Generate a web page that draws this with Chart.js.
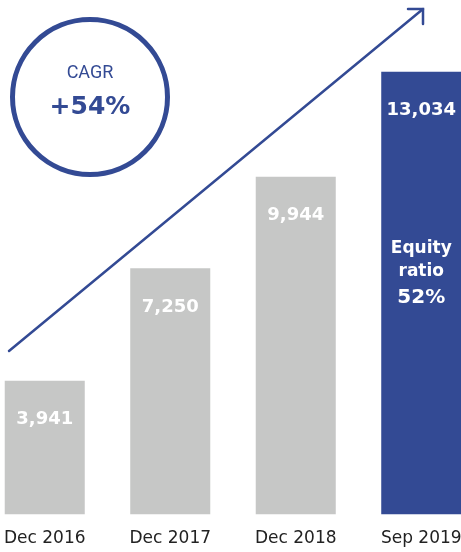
<!DOCTYPE html>
<html>
<head>
<meta charset="utf-8">
<script src="https://cdn.jsdelivr.net/npm/chart.js@4/dist/chart.umd.min.js"></script>
<style>
html,body{margin:0;padding:0;background:#fff;overflow:hidden;width:461px;height:552px;}
#wrap{position:absolute;left:-18px;top:0;width:502px;height:562px;}
</style>
</head>
<body>
<div id="wrap"><canvas id="c" width="502" height="562"></canvas></div>
<script>
const categories = ["Dec 2016", "Dec 2017", "Dec 2018", "Sep 2019"];
const equityValues = [3941, 7250, 9944, 13034];
const valueLabels = ["3,941", "7,250", "9,944", "13,034"];
const cagrTitle = "CAGR";
const cagrValue = "+54%";
const equityRatioLines = ["Equity", "ratio", "52%"];

const BLUE = "#334a94";
const GREY = "#c6c7c6";

const overlay = {
  id: "overlay",
  afterDatasetsDraw(chart) {
    const ctx = chart.ctx;
    const meta = chart.getDatasetMeta(0);
    ctx.save();
    ctx.fillStyle = "#ffffff";
    ctx.textAlign = "center";
    ctx.textBaseline = "middle";
    ctx.font = "bold 18px 'DejaVu Sans'";
    meta.data.forEach((bar, i) => {
      ctx.fillText(valueLabels[i], bar.x, bar.y + 38.5);
    });
    const last = meta.data[meta.data.length - 1];
    ctx.font = "bold 17px 'DejaVu Sans'";
    ctx.fillText(equityRatioLines[0], last.x, last.y + 177);
    ctx.fillText(equityRatioLines[1], last.x, last.y + 200);
    ctx.font = "bold 20px 'DejaVu Sans'";
    ctx.fillText(equityRatioLines[2], last.x, last.y + 226);

    const ox = 18;
    ctx.strokeStyle = BLUE;
    ctx.lineWidth = 5;
    ctx.beginPath();
    ctx.arc(90 + ox, 97, 77.5, 0, Math.PI * 2);
    ctx.stroke();
    ctx.fillStyle = BLUE;
    ctx.font = "18px Roboto";
    ctx.fillText(cagrTitle, 90 + ox, 73);
    ctx.font = "bold 25px 'DejaVu Sans'";
    ctx.fillText(cagrValue, 90 + ox, 107);

    ctx.lineWidth = 2.5;
    ctx.lineCap = "round";
    ctx.lineJoin = "miter";
    ctx.beginPath();
    ctx.moveTo(9 + ox, 351);
    ctx.lineTo(423 + ox, 9);
    ctx.stroke();
    ctx.beginPath();
    ctx.moveTo(408 + ox, 9);
    ctx.lineTo(423 + ox, 9);
    ctx.lineTo(423 + ox, 24);
    ctx.stroke();
    ctx.restore();
  }
};

new Chart(document.getElementById("c"), {
  type: "bar",
  data: {
    labels: categories,
    datasets: [{
      data: equityValues,
      backgroundColor: [GREY, GREY, GREY, BLUE],
      borderWidth: 0,
      barPercentage: 0.8,
      categoryPercentage: 0.797
    }]
  },
  options: {
    responsive: false,
    animation: false,
    devicePixelRatio: 1,
    layout: { padding: { top: 0, bottom: 0, left: 0, right: 0 } },
    plugins: { legend: { display: false }, tooltip: { enabled: false } },
    scales: {
      y: { display: false, min: 0, max: 15150 },
      x: {
        grid: { display: false, drawTicks: false },
        border: { display: false },
        ticks: { padding: 13.5, color: "#222222", font: { family: "'DejaVu Sans'", size: 17 } }
      }
    }
  },
  plugins: [overlay]
});
</script>
</body>
</html>
